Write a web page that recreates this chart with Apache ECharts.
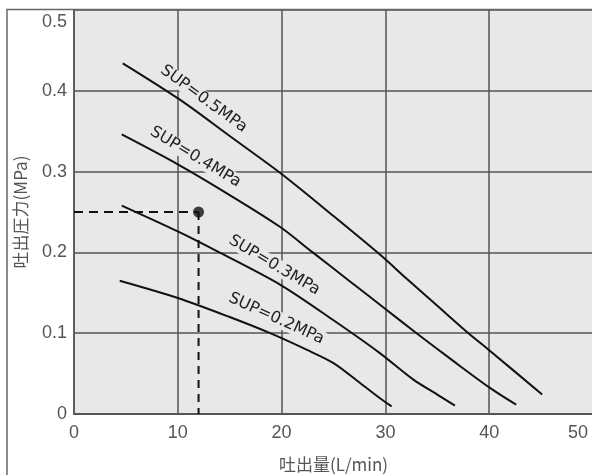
<!DOCTYPE html>
<html>
<head>
<meta charset="utf-8">
<script src="https://cdn.jsdelivr.net/npm/echarts@6/dist/echarts.min.js"></script>
<style>
html,body{margin:0;padding:0;background:#fff;}
#c{width:592px;height:475px;}
</style>
</head>
<body>
<div id="c"></div>
<script>
// ---- data ----
const xTicks = [0, 10, 20, 30, 40, 50];
const yTicks = [0, 0.1, 0.2, 0.3, 0.4, 0.5];
const xName = '吐出量(L/min)';
const yName = '吐出圧力(MPa)';

const sup05 = [[4.7,0.434],[10.2,0.389],[15,0.344],[20,0.297],[25,0.245],[29.5,0.197],[32,0.168],[35,0.134],[38,0.1],[40,0.079],[45.1,0.024]];
const sup04 = [[4.6,0.346],[10,0.309],[15,0.271],[19.8,0.232],[23,0.2],[26.5,0.165],[30,0.13],[33,0.1],[36.5,0.066],[40,0.033],[42.6,0.0115]];
const sup03 = [[4.6,0.258],[10,0.226],[14,0.2],[20,0.159],[25,0.116],[29.4,0.076],[32.7,0.0425],[35,0.024],[36.7,0.0103]];
const sup02 = [[4.4,0.165],[10,0.1436],[15,0.12],[18.9,0.1],[22.4,0.0796],[25,0.063],[27.5,0.039],[29.45,0.0198],[30.6,0.0094]];

const opPoint = [12, 0.25];
const guideH = [[0, 0.25], [12, 0.25]];
const guideV = [[12, 0.25], [12, 0]];

const labelTexts = ['SUP=0.5MPa', 'SUP=0.4MPa', 'SUP=0.3MPa', 'SUP=0.2MPa'];
const labelAnchors = [[12.5, 0.39], [11.7, 0.318], [19.3, 0.184], [19.5, 0.118]];
const labelAngles = [36, 31, 30.5, 24.5];

// ---- chart ----
const chart = echarts.init(document.getElementById('c'), null, {renderer: 'canvas'});
const numFont = 'Liberation Sans, Arial, sans-serif';
const tickFont = {fontFamily: numFont, fontSize: 18, color: '#555'};
const curve = (name, d) => ({
  name, type: 'line', data: d, smooth: 0.3, showSymbol: false, symbol: 'none',
  lineStyle: {color: '#111', width: 2}, z: 3, silent: true
});

chart.setOption({
  animation: false,
  grid: {left: 74, right: -1, top: 10, bottom: 61, show: true, backgroundColor: '#e8e8e8', borderWidth: 0,
         containLabel: false, outerBoundsMode: 'none'},
  xAxis: {
    type: 'value', min: xTicks[0], max: xTicks[xTicks.length - 1], interval: 10,
    name: xName, nameLocation: 'middle', nameGap: 42,
    nameTextStyle: {fontFamily: 'Noto Sans CJK JP, sans-serif', fontSize: 17, color: '#555'},
    axisLine: {show: true, lineStyle: {color: '#555', width: 2}},
    axisTick: {show: false},
    splitLine: {show: true, lineStyle: {color: '#555', width: 1.5}},
    axisLabel: Object.assign({margin: 10, showMaxLabel: true,
      formatter: v => v === 50 ? '{e|50}' : String(v),
      rich: {e: {fontFamily: numFont, fontSize: 18, color: '#555', padding: [0, 5, 0, 0]}}
    }, tickFont, {alignMaxLabel: 'right'})
  },
  yAxis: {
    type: 'value', min: yTicks[0], max: yTicks[yTicks.length - 1], interval: 0.1,
    name: yName, nameLocation: 'middle', nameGap: 45, nameRotate: 90,
    nameTextStyle: {fontFamily: 'Noto Sans CJK JP, sans-serif', fontSize: 17, color: '#555'},
    axisLine: {show: true, lineStyle: {color: '#555', width: 1.5}},
    axisTick: {show: false},
    splitLine: {show: true, lineStyle: {color: '#555', width: 1.5}},
    axisLabel: Object.assign({margin: 7,
      formatter: v => v === 0 ? '0' : (Math.abs(v - 0.5) < 1e-9 ? '{t|0.5}' : v.toFixed(1)),
      rich: {t: {fontFamily: numFont, fontSize: 18, color: '#555', padding: [24, 0, 0, 0]}}
    }, tickFont)
  },
  series: [
    curve('SUP=0.5MPa', sup05),
    curve('SUP=0.4MPa', sup04),
    curve('SUP=0.3MPa', sup03),
    curve('SUP=0.2MPa', sup02),
    {type: 'line', data: guideH, showSymbol: false, symbol: 'none', lineStyle: {color: '#111', width: 2, type: [9, 6]}, z: 3},
    {type: 'line', data: guideV, showSymbol: false, symbol: 'none', lineStyle: {color: '#111', width: 2, type: [8, 6]}, z: 3},
    {type: 'scatter', data: [opPoint], symbol: 'circle', symbolSize: 11, itemStyle: {color: '#111'}, z: 4}
  ]
});

const graphics = [{
  type: 'rect', shape: {x: 7, y: 9.5, width: 700, height: 600},
  style: {fill: 'none', stroke: '#666', lineWidth: 1.5}, z: 10, silent: true
}];
labelTexts.forEach((t, i) => {
  const p = chart.convertToPixel({gridIndex: 0}, labelAnchors[i]);
  graphics.push({
    type: 'text', x: p[0], y: p[1], rotation: -labelAngles[i] * Math.PI / 180, z: 1,
    style: {
      text: t, fontFamily: 'DejaVu Sans, sans-serif', fontSize: 16, fill: '#222',
      align: 'center', verticalAlign: 'middle', backgroundColor: '#e8e8e8', padding: [0, 1]
    }
  });
});
chart.setOption({graphic: graphics});
</script>
</body>
</html>
